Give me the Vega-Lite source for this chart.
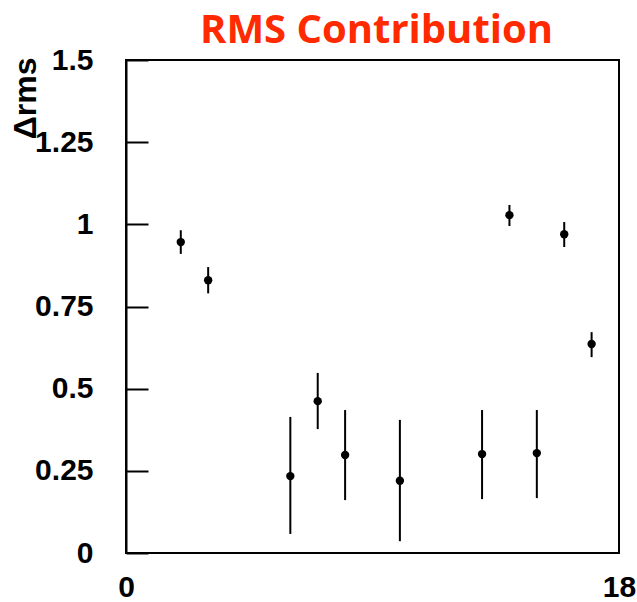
{
  "$schema": "https://vega.github.io/schema/vega-lite/v6.json",
  "autosize": "none",
  "padding": {"left": 126, "top": 60, "right": 18, "bottom": 49},
  "width": 493,
  "height": 493,
  "background": "white",
  "title": {
    "text": "RMS Contribution",
    "color": "#ff2a00",
    "font": "Open Sans",
    "fontSize": 40,
    "fontWeight": "bold",
    "anchor": "middle",
    "offset": -6,
    "dx": 4
  },
  "config": {
    "view": {"stroke": "black", "strokeWidth": 2},
    "axis": {
      "labelFont": "Liberation Sans",
      "labelFontWeight": "bold",
      "labelFontSize": 30,
      "labelColor": "black",
      "titleFont": "Liberation Sans",
      "titleFontWeight": "bold",
      "titleFontSize": 30,
      "titleColor": "black",
      "grid": false,
      "domainColor": "black",
      "domainWidth": 2,
      "tickColor": "black",
      "tickWidth": 2
    }
  },
  "data": {
    "values": [
      {"x": 2, "y": 0.946, "lo": 0.91, "hi": 0.982},
      {"x": 3, "y": 0.83, "lo": 0.79, "hi": 0.87},
      {"x": 6, "y": 0.234, "lo": 0.058, "hi": 0.414},
      {"x": 7, "y": 0.462, "lo": 0.377, "hi": 0.548},
      {"x": 8, "y": 0.298, "lo": 0.161, "hi": 0.435},
      {"x": 10, "y": 0.22, "lo": 0.036, "hi": 0.405},
      {"x": 13, "y": 0.301, "lo": 0.164, "hi": 0.435},
      {"x": 14, "y": 1.028, "lo": 0.995, "hi": 1.059},
      {"x": 15, "y": 0.304, "lo": 0.167, "hi": 0.435},
      {"x": 16, "y": 0.97, "lo": 0.931, "hi": 1.007},
      {"x": 17, "y": 0.636, "lo": 0.596, "hi": 0.672}
    ]
  },
  "layer": [
    {
      "mark": {"type": "rule", "color": "black", "strokeWidth": 2},
      "encoding": {
        "x": {"field": "x", "type": "quantitative"},
        "y": {"field": "lo", "type": "quantitative"},
        "y2": {"field": "hi"}
      }
    },
    {
      "mark": {"type": "point", "shape": "circle", "filled": true, "color": "black", "size": 70, "opacity": 1},
      "encoding": {
        "x": {
          "field": "x",
          "type": "quantitative",
          "scale": {"domain": [0, 18], "nice": false, "zero": false},
          "axis": {
            "title": null,
            "values": [0, 18],
            "ticks": false,
            "domain": false,
            "labelPadding": 19,
            "labelFlush": false
          }
        },
        "y": {
          "field": "y",
          "type": "quantitative",
          "scale": {"domain": [0, 1.5], "nice": false},
          "axis": {
            "title": "Δrms",
            "values": [0, 0.25, 0.5, 0.75, 1, 1.25, 1.5],
            "labelExpr": "'' + datum.value",
            "tickSize": -22,
            "labelPadding": 55,
            "labelFlush": false,
            "titleFontSize": 32,
            "titleAnchor": "end",
            "titleAlign": "right",
            "titleBaseline": "alphabetic",
            "titleX": -91,
            "titleY": -3
          }
        }
      }
    }
  ]
}
